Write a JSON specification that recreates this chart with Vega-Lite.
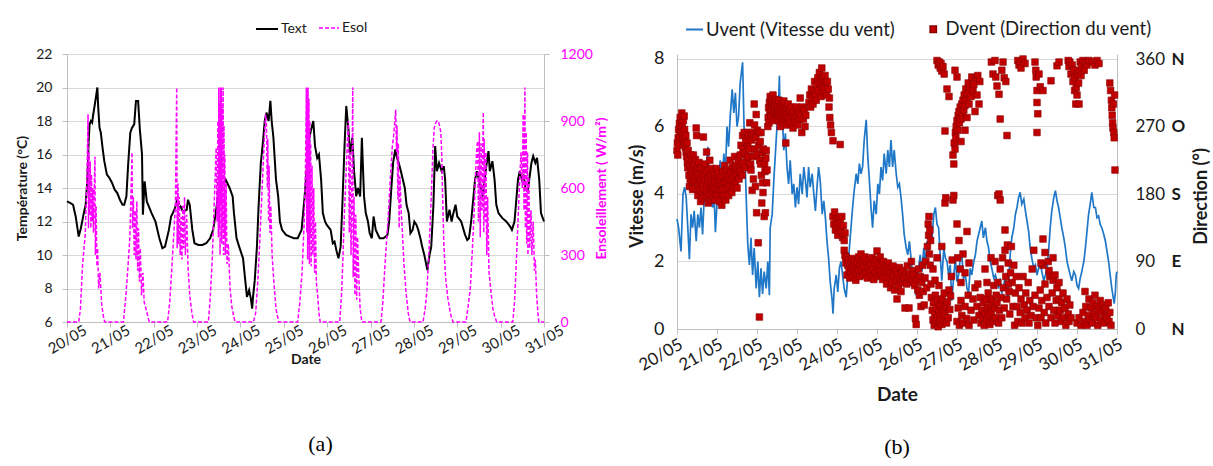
{
"$schema": "https://vega.github.io/schema/vega-lite/v6.json",
"autosize": {"type": "pad"},
"padding": {"left": 15, "top": 17, "right": 5, "bottom": 5},
"background": "white",
"config": {
  "font": "Lato",
  "view": {"stroke": null},
  "axis": {"labelFont": "Lato", "titleFont": "Lato", "labelColor": "#1a1a1a", "titleColor": "#1a1a1a", "gridColor": "#d9d9d9", "domainColor": "#bfbfbf", "tickColor": "#bfbfbf", "labelOverlap": false},
  "legend": {"labelFont": "Lato", "labelColor": "#1a1a1a", "labelLimit": 400}
},
"datasets": {
"temp": [
{"d":0,"T":13.2},{"d":0.08,"T":13.1},{"d":0.14,"T":13.0},{"d":0.2,"T":12.3},{"d":0.27,"T":11.1},{"d":0.32,"T":11.6},{"d":0.38,"T":12.4},{"d":0.43,"T":13.0},{"d":0.47,"T":14.5},{"d":0.5,"T":16.8},{"d":0.52,"T":17.8},{"d":0.55,"T":18.0},{"d":0.58,"T":17.9},{"d":0.6,"T":18.3},{"d":0.63,"T":18.8},{"d":0.66,"T":19.3},{"d":0.7,"T":20.0},{"d":0.72,"T":18.8},{"d":0.75,"T":17.6},{"d":0.78,"T":17.3},{"d":0.82,"T":16.4},{"d":0.86,"T":15.6},{"d":0.92,"T":14.8},{"d":0.98,"T":14.6},{"d":1.04,"T":14.3},{"d":1.1,"T":13.9},{"d":1.16,"T":13.7},{"d":1.22,"T":13.3},{"d":1.28,"T":13.0},{"d":1.32,"T":13.0},{"d":1.37,"T":13.5},{"d":1.41,"T":15.4},{"d":1.46,"T":17.3},{"d":1.5,"T":17.6},{"d":1.55,"T":17.8},{"d":1.59,"T":19.2},{"d":1.64,"T":19.2},{"d":1.68,"T":17.5},{"d":1.73,"T":16.0},{"d":1.75,"T":12.4},{"d":1.79,"T":14.4},{"d":1.84,"T":13.2},{"d":1.95,"T":12.5},{"d":2.04,"T":12.0},{"d":2.13,"T":11.0},{"d":2.2,"T":10.4},{"d":2.26,"T":10.5},{"d":2.35,"T":11.5},{"d":2.4,"T":12.3},{"d":2.44,"T":12.5},{"d":2.49,"T":12.8},{"d":2.53,"T":13.2},{"d":2.58,"T":12.8},{"d":2.62,"T":12.9},{"d":2.67,"T":12.6},{"d":2.76,"T":12.7},{"d":2.79,"T":13.3},{"d":2.83,"T":13.0},{"d":2.89,"T":11.5},{"d":2.94,"T":10.7},{"d":3.03,"T":10.6},{"d":3.12,"T":10.6},{"d":3.21,"T":10.7},{"d":3.3,"T":11.0},{"d":3.37,"T":11.5},{"d":3.43,"T":12.5},{"d":3.48,"T":13.5},{"d":3.52,"T":14.3},{"d":3.57,"T":14.1},{"d":3.66,"T":14.5},{"d":3.75,"T":14.0},{"d":3.82,"T":13.5},{"d":3.85,"T":12.5},{"d":3.91,"T":11.0},{"d":3.97,"T":10.5},{"d":4.06,"T":9.8},{"d":4.11,"T":8.5},{"d":4.15,"T":7.5},{"d":4.2,"T":7.9},{"d":4.24,"T":7.4},{"d":4.27,"T":6.8},{"d":4.29,"T":7.5},{"d":4.33,"T":8.5},{"d":4.38,"T":10.5},{"d":4.42,"T":13.0},{"d":4.47,"T":15.5},{"d":4.51,"T":16.5},{"d":4.56,"T":18.0},{"d":4.6,"T":18.5},{"d":4.65,"T":18.0},{"d":4.69,"T":19.2},{"d":4.72,"T":18.0},{"d":4.76,"T":17.0},{"d":4.82,"T":14.5},{"d":4.87,"T":13.5},{"d":4.91,"T":12.0},{"d":4.96,"T":11.5},{"d":5.05,"T":11.2},{"d":5.14,"T":11.1},{"d":5.23,"T":11.0},{"d":5.32,"T":11.0},{"d":5.41,"T":11.5},{"d":5.48,"T":13.5},{"d":5.54,"T":15.5},{"d":5.59,"T":17.0},{"d":5.63,"T":17.5},{"d":5.68,"T":18.0},{"d":5.72,"T":16.5},{"d":5.77,"T":15.8},{"d":5.81,"T":16.0},{"d":5.86,"T":14.5},{"d":5.9,"T":12.5},{"d":5.95,"T":12.0},{"d":5.99,"T":11.8},{"d":6.08,"T":11.5},{"d":6.13,"T":10.7},{"d":6.17,"T":10.8},{"d":6.22,"T":10.2},{"d":6.26,"T":9.8},{"d":6.31,"T":10.5},{"d":6.35,"T":13.0},{"d":6.4,"T":16.5},{"d":6.44,"T":18.9},{"d":6.49,"T":17.5},{"d":6.53,"T":16.0},{"d":6.58,"T":17.0},{"d":6.62,"T":15.0},{"d":6.67,"T":13.5},{"d":6.71,"T":14.0},{"d":6.76,"T":13.5},{"d":6.8,"T":17.0},{"d":6.85,"T":13.5},{"d":6.89,"T":12.5},{"d":6.94,"T":12.0},{"d":6.98,"T":11.3},{"d":7.03,"T":11.0},{"d":7.07,"T":12.3},{"d":7.12,"T":11.5},{"d":7.21,"T":11.0},{"d":7.3,"T":11.0},{"d":7.39,"T":11.2},{"d":7.43,"T":12.0},{"d":7.48,"T":14.0},{"d":7.52,"T":15.5},{"d":7.57,"T":16.3},{"d":7.61,"T":15.8},{"d":7.65,"T":15.5},{"d":7.7,"T":15.0},{"d":7.79,"T":14.0},{"d":7.83,"T":13.0},{"d":7.88,"T":12.5},{"d":7.92,"T":11.3},{"d":7.97,"T":11.5},{"d":8.01,"T":12.0},{"d":8.06,"T":11.8},{"d":8.1,"T":11.5},{"d":8.15,"T":11.0},{"d":8.19,"T":10.5},{"d":8.24,"T":10.0},{"d":8.28,"T":9.5},{"d":8.31,"T":9.1},{"d":8.36,"T":10.0},{"d":8.4,"T":10.5},{"d":8.45,"T":13.0},{"d":8.49,"T":16.5},{"d":8.53,"T":15.0},{"d":8.58,"T":15.5},{"d":8.64,"T":15.0},{"d":8.69,"T":15.3},{"d":8.72,"T":14.5},{"d":8.76,"T":12.0},{"d":8.82,"T":12.7},{"d":8.87,"T":12.0},{"d":8.91,"T":12.5},{"d":8.96,"T":13.0},{"d":9.0,"T":12.3},{"d":9.09,"T":12.0},{"d":9.18,"T":11.2},{"d":9.23,"T":10.9},{"d":9.27,"T":11.0},{"d":9.32,"T":12.0},{"d":9.41,"T":14.5},{"d":9.45,"T":15.0},{"d":9.5,"T":14.5},{"d":9.54,"T":14.0},{"d":9.59,"T":13.5},{"d":9.63,"T":14.5},{"d":9.68,"T":15.5},{"d":9.72,"T":16.2},{"d":9.75,"T":15.0},{"d":9.81,"T":15.6},{"d":9.86,"T":14.5},{"d":9.9,"T":13.0},{"d":9.95,"T":12.5},{"d":10.04,"T":12.2},{"d":10.13,"T":12.0},{"d":10.22,"T":11.7},{"d":10.26,"T":11.5},{"d":10.32,"T":12.0},{"d":10.4,"T":14.5},{"d":10.44,"T":15.0},{"d":10.49,"T":14.5},{"d":10.53,"T":14.8},{"d":10.57,"T":14.0},{"d":10.62,"T":13.8},{"d":10.66,"T":14.5},{"d":10.71,"T":15.5},{"d":10.75,"T":15.9},{"d":10.8,"T":15.5},{"d":10.84,"T":15.8},{"d":10.89,"T":14.5},{"d":10.93,"T":12.5},{"d":11.0,"T":12.0}
],
"esol": [
{"d":0,"E":0},{"d":0.27,"E":0},{"d":0.31,"E":60},{"d":0.36,"E":260},{"d":0.42,"E":390},{"d":0.46,"E":650},{"d":0.485,"E":930},{"d":0.495,"E":420},{"d":0.51,"E":760},{"d":0.52,"E":480},{"d":0.535,"E":720},{"d":0.55,"E":420},{"d":0.565,"E":660},{"d":0.58,"E":450},{"d":0.595,"E":600},{"d":0.61,"E":400},{"d":0.625,"E":560},{"d":0.645,"E":740},{"d":0.655,"E":300},{"d":0.67,"E":520},{"d":0.69,"E":250},{"d":0.705,"E":330},{"d":0.73,"E":150},{"d":0.76,"E":220},{"d":0.8,"E":80},{"d":0.835,"E":30},{"d":0.87,"E":0},
{"d":1.3,"E":0},{"d":1.35,"E":100},{"d":1.4,"E":230},{"d":1.45,"E":380},{"d":1.5,"E":760},{"d":1.51,"E":420},{"d":1.53,"E":560},{"d":1.55,"E":300},{"d":1.57,"E":500},{"d":1.59,"E":280},{"d":1.61,"E":540},{"d":1.63,"E":230},{"d":1.65,"E":420},{"d":1.67,"E":180},{"d":1.69,"E":330},{"d":1.72,"E":120},{"d":1.75,"E":220},{"d":1.78,"E":90},{"d":1.82,"E":60},{"d":1.87,"E":20},{"d":1.9,"E":0},
{"d":2.32,"E":0},{"d":2.37,"E":90},{"d":2.42,"E":250},{"d":2.47,"E":420},{"d":2.5,"E":520},{"d":2.53,"E":1050},{"d":2.54,"E":330},{"d":2.56,"E":620},{"d":2.575,"E":350},{"d":2.59,"E":560},{"d":2.61,"E":300},{"d":2.63,"E":470},{"d":2.65,"E":280},{"d":2.67,"E":520},{"d":2.69,"E":330},{"d":2.71,"E":560},{"d":2.73,"E":300},{"d":2.76,"E":480},{"d":2.79,"E":250},{"d":2.83,"E":120},{"d":2.88,"E":40},{"d":2.92,"E":0},
{"d":3.26,"E":0},{"d":3.3,"E":100},{"d":3.35,"E":280},{"d":3.4,"E":560},{"d":3.44,"E":780},{"d":3.46,"E":450},{"d":3.48,"E":900},{"d":3.49,"E":380},{"d":3.5,"E":1050},{"d":3.51,"E":420},{"d":3.52,"E":980},{"d":3.53,"E":300},{"d":3.54,"E":1050},{"d":3.55,"E":520},{"d":3.56,"E":1050},{"d":3.57,"E":350},{"d":3.58,"E":960},{"d":3.59,"E":420},{"d":3.6,"E":1050},{"d":3.61,"E":300},{"d":3.62,"E":880},{"d":3.63,"E":380},{"d":3.64,"E":750},{"d":3.65,"E":300},{"d":3.67,"E":620},{"d":3.69,"E":260},{"d":3.72,"E":350},{"d":3.76,"E":150},{"d":3.8,"E":70},{"d":3.85,"E":20},{"d":3.88,"E":0},
{"d":4.3,"E":0},{"d":4.35,"E":40},{"d":4.4,"E":180},{"d":4.45,"E":380},{"d":4.5,"E":600},{"d":4.55,"E":820},{"d":4.58,"E":930},{"d":4.6,"E":880},{"d":4.62,"E":600},{"d":4.63,"E":820},{"d":4.65,"E":450},{"d":4.66,"E":700},{"d":4.68,"E":400},{"d":4.7,"E":520},{"d":4.73,"E":300},{"d":4.77,"E":180},{"d":4.82,"E":60},{"d":4.88,"E":0},
{"d":5.32,"E":0},{"d":5.37,"E":90},{"d":5.42,"E":220},{"d":5.47,"E":450},{"d":5.5,"E":700},{"d":5.52,"E":1050},{"d":5.53,"E":400},{"d":5.54,"E":1050},{"d":5.55,"E":280},{"d":5.56,"E":1050},{"d":5.57,"E":350},{"d":5.58,"E":1000},{"d":5.59,"E":260},{"d":5.6,"E":900},{"d":5.61,"E":380},{"d":5.62,"E":800},{"d":5.63,"E":250},{"d":5.65,"E":700},{"d":5.67,"E":300},{"d":5.69,"E":600},{"d":5.71,"E":220},{"d":5.73,"E":450},{"d":5.75,"E":180},{"d":5.78,"E":120},{"d":5.81,"E":40},{"d":5.84,"E":0},
{"d":6.29,"E":0},{"d":6.33,"E":120},{"d":6.36,"E":270},{"d":6.4,"E":500},{"d":6.43,"E":640},{"d":6.46,"E":780},{"d":6.49,"E":900},{"d":6.51,"E":400},{"d":6.53,"E":760},{"d":6.55,"E":300},{"d":6.57,"E":600},{"d":6.59,"E":1050},{"d":6.6,"E":200},{"d":6.62,"E":560},{"d":6.64,"E":120},{"d":6.66,"E":480},{"d":6.68,"E":100},{"d":6.7,"E":380},{"d":6.73,"E":200},{"d":6.76,"E":60},{"d":6.8,"E":0},
{"d":7.24,"E":0},{"d":7.28,"E":80},{"d":7.33,"E":245},{"d":7.4,"E":450},{"d":7.45,"E":620},{"d":7.5,"E":780},{"d":7.53,"E":830},{"d":7.56,"E":900},{"d":7.58,"E":950},{"d":7.6,"E":760},{"d":7.61,"E":880},{"d":7.63,"E":550},{"d":7.64,"E":800},{"d":7.66,"E":420},{"d":7.68,"E":650},{"d":7.7,"E":520},{"d":7.73,"E":420},{"d":7.77,"E":260},{"d":7.82,"E":130},{"d":7.87,"E":40},{"d":7.91,"E":0},
{"d":8.21,"E":0},{"d":8.26,"E":60},{"d":8.3,"E":140},{"d":8.35,"E":330},{"d":8.4,"E":560},{"d":8.44,"E":780},{"d":8.47,"E":870},{"d":8.5,"E":890},{"d":8.53,"E":900},{"d":8.56,"E":900},{"d":8.59,"E":880},{"d":8.62,"E":850},{"d":8.64,"E":760},{"d":8.66,"E":580},{"d":8.69,"E":350},{"d":8.73,"E":200},{"d":8.78,"E":110},{"d":8.84,"E":40},{"d":8.9,"E":0},
{"d":9.2,"E":0},{"d":9.25,"E":70},{"d":9.3,"E":150},{"d":9.35,"E":330},{"d":9.39,"E":500},{"d":9.43,"E":700},{"d":9.45,"E":780},{"d":9.47,"E":810},{"d":9.49,"E":450},{"d":9.51,"E":850},{"d":9.53,"E":380},{"d":9.55,"E":800},{"d":9.57,"E":500},{"d":9.6,"E":940},{"d":9.61,"E":400},{"d":9.62,"E":820},{"d":9.64,"E":450},{"d":9.66,"E":760},{"d":9.68,"E":300},{"d":9.7,"E":560},{"d":9.73,"E":230},{"d":9.77,"E":150},{"d":9.82,"E":60},{"d":9.87,"E":20},{"d":9.91,"E":0},
{"d":10.28,"E":0},{"d":10.32,"E":90},{"d":10.36,"E":260},{"d":10.4,"E":450},{"d":10.44,"E":640},{"d":10.47,"E":760},{"d":10.5,"E":600},{"d":10.52,"E":930},{"d":10.54,"E":500},{"d":10.56,"E":1050},{"d":10.57,"E":420},{"d":10.59,"E":850},{"d":10.6,"E":350},{"d":10.62,"E":760},{"d":10.63,"E":300},{"d":10.65,"E":650},{"d":10.67,"E":330},{"d":10.7,"E":500},{"d":10.72,"E":300},{"d":10.75,"E":450},{"d":10.78,"E":230},{"d":10.8,"E":280},{"d":10.83,"E":120},{"d":10.86,"E":40},{"d":10.88,"E":0},{"d":11,"E":0}
],
"wind": [
{"d":0,"V":3.26},{"d":0.04,"V":3.0},{"d":0.1,"V":2.3},{"d":0.15,"V":4.0},{"d":0.19,"V":4.2},{"d":0.23,"V":3.9},{"d":0.27,"V":3.0},{"d":0.31,"V":2.07},{"d":0.35,"V":3.4},{"d":0.39,"V":3.0},{"d":0.43,"V":3.5},{"d":0.48,"V":2.6},{"d":0.52,"V":3.4},{"d":0.56,"V":3.0},{"d":0.6,"V":3.6},{"d":0.64,"V":2.8},{"d":0.68,"V":3.9},{"d":0.73,"V":4.6},{"d":0.77,"V":5.4},{"d":0.81,"V":4.4},{"d":0.85,"V":4.0},{"d":0.89,"V":3.6},{"d":0.93,"V":3.9},{"d":0.96,"V":2.87},{"d":1.0,"V":3.7},{"d":1.04,"V":4.4},{"d":1.08,"V":5.0},{"d":1.13,"V":4.3},{"d":1.17,"V":5.2},{"d":1.21,"V":4.6},{"d":1.25,"V":6.0},{"d":1.29,"V":5.4},{"d":1.33,"V":6.3},{"d":1.38,"V":7.1},{"d":1.42,"V":6.4},{"d":1.46,"V":7.0},{"d":1.5,"V":6.0},{"d":1.54,"V":6.3},{"d":1.58,"V":7.3},{"d":1.64,"V":7.9},{"d":1.68,"V":5.8},{"d":1.73,"V":3.9},{"d":1.77,"V":2.5},{"d":1.81,"V":1.9},{"d":1.85,"V":2.7},{"d":1.89,"V":1.6},{"d":1.93,"V":2.4},{"d":1.98,"V":1.2},{"d":2.02,"V":2.0},{"d":2.06,"V":0.94},{"d":2.1,"V":1.8},{"d":2.14,"V":1.04},{"d":2.18,"V":1.7},{"d":2.23,"V":1.2},{"d":2.27,"V":2.0},{"d":2.31,"V":1.0},{"d":2.33,"V":3.0},{"d":2.38,"V":3.4},{"d":2.42,"V":4.4},{"d":2.46,"V":5.2},{"d":2.5,"V":6.0},{"d":2.54,"V":6.8},{"d":2.56,"V":7.5},{"d":2.58,"V":6.0},{"d":2.63,"V":6.4},{"d":2.67,"V":5.3},{"d":2.71,"V":5.8},{"d":2.75,"V":4.8},{"d":2.79,"V":4.3},{"d":2.83,"V":5.0},{"d":2.88,"V":4.0},{"d":2.92,"V":4.3},{"d":2.96,"V":3.6},{"d":3.0,"V":4.2},{"d":3.04,"V":3.7},{"d":3.08,"V":4.6},{"d":3.13,"V":4.0},{"d":3.17,"V":4.8},{"d":3.21,"V":4.4},{"d":3.25,"V":3.9},{"d":3.29,"V":4.8},{"d":3.33,"V":4.2},{"d":3.38,"V":4.6},{"d":3.42,"V":4.0},{"d":3.46,"V":3.5},{"d":3.5,"V":4.2},{"d":3.54,"V":4.8},{"d":3.58,"V":4.4},{"d":3.63,"V":3.4},{"d":3.67,"V":3.8},{"d":3.71,"V":3.3},{"d":3.75,"V":2.6},{"d":3.79,"V":2.1},{"d":3.83,"V":1.4},{"d":3.88,"V":0.84},{"d":3.9,"V":0.45},{"d":3.93,"V":1.2},{"d":3.98,"V":1.6},{"d":4.02,"V":1.1},{"d":4.06,"V":1.8},{"d":4.1,"V":2.0},{"d":4.14,"V":1.6},{"d":4.18,"V":1.2},{"d":4.23,"V":0.94},{"d":4.27,"V":1.6},{"d":4.31,"V":2.4},{"d":4.35,"V":3.0},{"d":4.39,"V":3.6},{"d":4.43,"V":4.1},{"d":4.48,"V":4.6},{"d":4.52,"V":4.3},{"d":4.56,"V":4.9},{"d":4.6,"V":4.6},{"d":4.64,"V":4.8},{"d":4.68,"V":5.6},{"d":4.73,"V":6.2},{"d":4.77,"V":5.1},{"d":4.81,"V":4.4},{"d":4.85,"V":3.6},{"d":4.89,"V":3.0},{"d":4.93,"V":3.8},{"d":4.98,"V":3.4},{"d":5.02,"V":4.3},{"d":5.06,"V":4.0},{"d":5.1,"V":4.8},{"d":5.14,"V":4.4},{"d":5.18,"V":5.2},{"d":5.23,"V":4.6},{"d":5.27,"V":5.3},{"d":5.31,"V":4.8},{"d":5.35,"V":5.6},{"d":5.39,"V":4.8},{"d":5.43,"V":5.3},{"d":5.48,"V":4.6},{"d":5.52,"V":4.2},{"d":5.56,"V":4.3},{"d":5.6,"V":3.9},{"d":5.64,"V":3.4},{"d":5.68,"V":2.8},{"d":5.73,"V":2.4},{"d":5.77,"V":2.2},{"d":5.81,"V":2.6},{"d":5.85,"V":2.1},{"d":5.89,"V":1.6},{"d":5.93,"V":1.8},{"d":5.97,"V":1.0},{"d":6.02,"V":1.6},{"d":6.08,"V":2.2},{"d":6.12,"V":1.7},{"d":6.17,"V":2.4},{"d":6.21,"V":1.9},{"d":6.25,"V":2.6},{"d":6.29,"V":2.3},{"d":6.33,"V":3.0},{"d":6.37,"V":2.6},{"d":6.42,"V":3.4},{"d":6.46,"V":3.6},{"d":6.5,"V":3.1},{"d":6.54,"V":3.0},{"d":6.58,"V":2.2},{"d":6.62,"V":1.43},{"d":6.67,"V":2.4},{"d":6.71,"V":2.1},{"d":6.75,"V":2.0},{"d":6.79,"V":1.6},{"d":6.83,"V":1.9},{"d":6.87,"V":0.84},{"d":6.92,"V":1.6},{"d":6.96,"V":2.1},{"d":7.0,"V":1.4},{"d":7.04,"V":1.6},{"d":7.08,"V":2.1},{"d":7.12,"V":2.2},{"d":7.16,"V":1.5},{"d":7.21,"V":1.6},{"d":7.25,"V":1.2},{"d":7.29,"V":1.05},{"d":7.33,"V":1.8},{"d":7.37,"V":1.6},{"d":7.42,"V":2.0},{"d":7.46,"V":2.2},{"d":7.5,"V":2.6},{"d":7.54,"V":2.8},{"d":7.58,"V":3.0},{"d":7.62,"V":3.2},{"d":7.66,"V":2.7},{"d":7.71,"V":3.0},{"d":7.75,"V":2.6},{"d":7.79,"V":2.4},{"d":7.83,"V":2.0},{"d":7.87,"V":1.8},{"d":7.92,"V":1.5},{"d":7.96,"V":1.6},{"d":8.0,"V":1.4},{"d":8.04,"V":1.2},{"d":8.08,"V":1.5},{"d":8.12,"V":1.05},{"d":8.17,"V":1.3},{"d":8.21,"V":1.6},{"d":8.25,"V":1.1},{"d":8.27,"V":0.84},{"d":8.3,"V":1.6},{"d":8.33,"V":2.2},{"d":8.37,"V":2.7},{"d":8.42,"V":3.0},{"d":8.46,"V":3.4},{"d":8.5,"V":3.6},{"d":8.54,"V":3.9},{"d":8.58,"V":4.05},{"d":8.62,"V":3.7},{"d":8.67,"V":3.85},{"d":8.71,"V":3.5},{"d":8.75,"V":3.2},{"d":8.79,"V":2.9},{"d":8.83,"V":2.4},{"d":8.87,"V":2.1},{"d":8.92,"V":1.8},{"d":8.96,"V":1.9},{"d":9.0,"V":1.6},{"d":9.04,"V":1.8},{"d":9.08,"V":2.0},{"d":9.12,"V":1.7},{"d":9.17,"V":1.43},{"d":9.21,"V":1.6},{"d":9.25,"V":1.8},{"d":9.29,"V":2.3},{"d":9.33,"V":3.0},{"d":9.37,"V":3.5},{"d":9.42,"V":3.9},{"d":9.46,"V":4.1},{"d":9.5,"V":3.8},{"d":9.54,"V":3.6},{"d":9.58,"V":3.3},{"d":9.62,"V":3.0},{"d":9.67,"V":2.7},{"d":9.71,"V":2.4},{"d":9.75,"V":2.0},{"d":9.79,"V":1.8},{"d":9.83,"V":1.6},{"d":9.87,"V":1.43},{"d":9.92,"V":1.7},{"d":9.96,"V":1.6},{"d":10.0,"V":1.3},{"d":10.04,"V":1.2},{"d":10.08,"V":1.5},{"d":10.12,"V":1.7},{"d":10.17,"V":2.0},{"d":10.21,"V":2.4},{"d":10.25,"V":2.9},{"d":10.29,"V":3.4},{"d":10.33,"V":3.7},{"d":10.37,"V":4.05},{"d":10.42,"V":3.6},{"d":10.46,"V":3.6},{"d":10.5,"V":3.3},{"d":10.54,"V":3.35},{"d":10.58,"V":3.1},{"d":10.62,"V":3.0},{"d":10.67,"V":2.8},{"d":10.71,"V":2.6},{"d":10.75,"V":2.3},{"d":10.79,"V":2.0},{"d":10.83,"V":1.6},{"d":10.87,"V":1.2},{"d":10.91,"V":0.9},{"d":10.93,"V":0.75},{"d":10.96,"V":1.1},{"d":10.98,"V":1.6},{"d":11.0,"V":1.7}
],
"dir": [
{"d":0,"D":238},{"d":0.01,"D":248},{"d":0.02,"D":232},{"d":0.03,"D":255},{"d":0.04,"D":266},{"d":0.05,"D":245},{"d":0.06,"D":274},{"d":0.07,"D":258},{"d":0.08,"D":282},{"d":0.09,"D":268},{"d":0.1,"D":262},{"d":0.11,"D":275},{"d":0.12,"D":288},{"d":0.13,"D":270},{"d":0.14,"D":255},{"d":0.15,"D":262},{"d":0.16,"D":278},{"d":0.17,"D":248},{"d":0.18,"D":284},{"d":0.19,"D":266},{"d":0.2,"D":252},{"d":0.21,"D":242},{"d":0.22,"D":258},{"d":0.23,"D":236},{"d":0.24,"D":230},{"d":0.25,"D":248},
{"d":0.26,"D":222},{"d":0.27,"D":215},{"d":0.28,"D":238},{"d":0.29,"D":228},{"d":0.3,"D":205},{"d":0.31,"D":190},{"d":0.32,"D":218},{"d":0.33,"D":200},{"d":0.34,"D":232},{"d":0.35,"D":212},{"d":0.36,"D":196},{"d":0.37,"D":225},{"d":0.38,"D":208},{"d":0.39,"D":186},{"d":0.4,"D":215},{"d":0.41,"D":232},{"d":0.42,"D":198},{"d":0.43,"D":220},{"d":0.44,"D":205},{"d":0.45,"D":188},{"d":0.46,"D":226},{"d":0.47,"D":210},{"d":0.48,"D":268},{"d":0.49,"D":258},{"d":0.5,"D":196},{"d":0.51,"D":215},{"d":0.52,"D":178},{"d":0.53,"D":206},{"d":0.54,"D":192},{"d":0.55,"D":222},{"d":0.56,"D":185},{"d":0.57,"D":200},{"d":0.58,"D":214},{"d":0.59,"D":170},{"d":0.6,"D":196},{"d":0.61,"D":208},{"d":0.62,"D":180},{"d":0.63,"D":215},{"d":0.64,"D":192},{"d":0.65,"D":175},{"d":0.66,"D":256},{"d":0.67,"D":205},{"d":0.68,"D":186},{"d":0.7,"D":220},{"d":0.71,"D":198},{"d":0.72,"D":178},{"d":0.73,"D":210},{"d":0.74,"D":236},{"d":0.75,"D":190},{"d":0.76,"D":182},{"d":0.77,"D":200},{"d":0.78,"D":168},{"d":0.79,"D":212},{"d":0.8,"D":195},{"d":0.81,"D":178},{"d":0.82,"D":225},{"d":0.83,"D":188},{"d":0.84,"D":205},{"d":0.85,"D":172},{"d":0.86,"D":198},{"d":0.87,"D":214},{"d":0.88,"D":185},{"d":0.89,"D":192},{"d":0.9,"D":176},{"d":0.92,"D":208},{"d":0.93,"D":188},{"d":0.94,"D":200},{"d":0.95,"D":172},{"d":0.96,"D":196},{"d":0.97,"D":180},{"d":0.98,"D":214},{"d":1.0,"D":186},{"d":1.01,"D":205},{"d":1.02,"D":178},{"d":1.03,"D":196},{"d":1.04,"D":190},{"d":1.05,"D":208},{"d":1.06,"D":170},{"d":1.07,"D":186},{"d":1.08,"D":198},{"d":1.1,"D":180},{"d":1.11,"D":202},{"d":1.12,"D":165},{"d":1.13,"D":192},{"d":1.14,"D":185},{"d":1.15,"D":210},{"d":1.16,"D":178},{"d":1.18,"D":196},{"d":1.19,"D":218},{"d":1.2,"D":186},{"d":1.21,"D":204},{"d":1.22,"D":172},{"d":1.24,"D":195},{"d":1.25,"D":212},{"d":1.26,"D":188},{"d":1.28,"D":200},{"d":1.29,"D":178},
{"d":1.3,"D":206},{"d":1.32,"D":192},{"d":1.33,"D":225},{"d":1.34,"D":210},{"d":1.36,"D":198},{"d":1.37,"D":182},{"d":1.38,"D":215},{"d":1.4,"D":202},{"d":1.41,"D":190},{"d":1.43,"D":216},{"d":1.44,"D":230},{"d":1.45,"D":208},{"d":1.46,"D":195},{"d":1.48,"D":218},{"d":1.49,"D":205},{"d":1.5,"D":188},{"d":1.52,"D":212},{"d":1.53,"D":225},{"d":1.55,"D":200},{"d":1.56,"D":215},{"d":1.58,"D":232},{"d":1.59,"D":210},{"d":1.6,"D":245},{"d":1.62,"D":220},{"d":1.63,"D":205},{"d":1.64,"D":258},{"d":1.65,"D":240},{"d":1.67,"D":222},{"d":1.68,"D":262},{"d":1.7,"D":215},{"d":1.71,"D":235},{"d":1.72,"D":255},{"d":1.73,"D":250},{"d":1.75,"D":228},{"d":1.76,"D":262},{"d":1.77,"D":244},{"d":1.78,"D":230},{"d":1.8,"D":258},{"d":1.81,"D":240},{"d":1.82,"D":275},{"d":1.84,"D":220},{"d":1.85,"D":212},{"d":1.86,"D":252},{"d":1.87,"D":262},{"d":1.88,"D":185},{"d":1.9,"D":230},{"d":1.91,"D":200},{"d":1.92,"D":258},{"d":1.93,"D":300},{"d":1.94,"D":272},{"d":1.95,"D":240},{"d":1.96,"D":190},{"d":1.97,"D":255},{"d":1.98,"D":286},{"d":1.99,"D":155},{"d":2.0,"D":232},{"d":2.01,"D":265},{"d":2.03,"D":115},{"d":2.04,"D":245},{"d":2.05,"D":262},{"d":2.06,"D":16},{"d":2.07,"D":225},{"d":2.08,"D":250},{"d":2.09,"D":220},{"d":2.1,"D":262},{"d":2.11,"D":205},{"d":2.12,"D":168},{"d":2.13,"D":235},{"d":2.14,"D":195},{"d":2.15,"D":182},{"d":2.16,"D":240},{"d":2.18,"D":150},{"d":2.19,"D":220},{"d":2.2,"D":210},{"d":2.21,"D":155},{"d":2.22,"D":228},{"d":2.23,"D":238},{"d":2.24,"D":195},{"d":2.25,"D":212},{"d":2.27,"D":270},
{"d":2.28,"D":282},{"d":2.29,"D":295},{"d":2.3,"D":275},{"d":2.31,"D":302},{"d":2.32,"D":288},{"d":2.33,"D":310},{"d":2.34,"D":296},{"d":2.35,"D":284},{"d":2.36,"D":305},{"d":2.37,"D":292},{"d":2.38,"D":300},{"d":2.39,"D":278},{"d":2.4,"D":312},{"d":2.41,"D":295},{"d":2.42,"D":286},{"d":2.43,"D":302},{"d":2.44,"D":290},{"d":2.45,"D":298},{"d":2.46,"D":282},{"d":2.47,"D":306},{"d":2.48,"D":292},{"d":2.49,"D":285},{"d":2.5,"D":300},{"d":2.51,"D":288},{"d":2.52,"D":296},{"d":2.53,"D":278},{"d":2.54,"D":290},{"d":2.55,"D":305},{"d":2.56,"D":284},{"d":2.57,"D":295},{"d":2.58,"D":270},{"d":2.6,"D":288},{"d":2.61,"D":300},{"d":2.62,"D":282},{"d":2.63,"D":292},{"d":2.64,"D":275},{"d":2.65,"D":298},{"d":2.66,"D":286},{"d":2.67,"D":304},{"d":2.68,"D":280},{"d":2.7,"D":292},{"d":2.71,"D":298},{"d":2.72,"D":248},{"d":2.73,"D":285},{"d":2.74,"D":272},{"d":2.75,"D":295},{"d":2.76,"D":282},{"d":2.78,"D":300},{"d":2.79,"D":288},{"d":2.8,"D":276},{"d":2.82,"D":292},{"d":2.83,"D":282},{"d":2.85,"D":296},{"d":2.86,"D":275},{"d":2.88,"D":288},{"d":2.9,"D":268},{"d":2.92,"D":290},{"d":2.94,"D":280},{"d":2.96,"D":276},{"d":2.98,"D":296},{"d":3.0,"D":285},{"d":3.02,"D":272},{"d":3.04,"D":290},{"d":3.06,"D":280},{"d":3.08,"D":308},{"d":3.1,"D":286},{"d":3.12,"D":262},{"d":3.14,"D":296},{"d":3.16,"D":280},{"d":3.18,"D":292},{"d":3.2,"D":270},{"d":3.22,"D":285},
{"d":3.3,"D":302},{"d":3.32,"D":312},{"d":3.34,"D":296},{"d":3.36,"D":320},{"d":3.38,"D":308},{"d":3.4,"D":300},{"d":3.42,"D":318},{"d":3.44,"D":330},{"d":3.46,"D":312},{"d":3.48,"D":305},{"d":3.5,"D":325},{"d":3.52,"D":335},{"d":3.54,"D":318},{"d":3.56,"D":342},{"d":3.58,"D":328},{"d":3.6,"D":310},{"d":3.62,"D":348},{"d":3.63,"D":332},{"d":3.65,"D":322},{"d":3.66,"D":336},{"d":3.68,"D":315},{"d":3.7,"D":338},{"d":3.72,"D":328},{"d":3.74,"D":312},{"d":3.76,"D":330},{"d":3.78,"D":320},{"d":3.8,"D":296},{"d":3.81,"D":308},{"d":3.82,"D":282},{"d":3.84,"D":272},{"d":3.86,"D":262},{"d":3.9,"D":251},{"d":4.08,"D":246},
{"d":3.9,"D":150},{"d":3.92,"D":140},{"d":3.94,"D":156},{"d":3.96,"D":132},{"d":3.98,"D":145},{"d":4.0,"D":138},{"d":4.02,"D":125},{"d":4.04,"D":148},{"d":4.06,"D":135},{"d":4.08,"D":142},{"d":4.1,"D":130},{"d":4.12,"D":150},{"d":4.14,"D":122},{"d":4.16,"D":138},{"d":4.18,"D":118},{"d":4.2,"D":128},
{"d":4.18,"D":105},{"d":4.2,"D":98},{"d":4.22,"D":88},{"d":4.23,"D":96},{"d":4.25,"D":72},{"d":4.27,"D":85},{"d":4.28,"D":92},{"d":4.3,"D":80},{"d":4.32,"D":68},{"d":4.33,"D":88},{"d":4.35,"D":76},{"d":4.37,"D":94},{"d":4.38,"D":82},{"d":4.4,"D":70},{"d":4.42,"D":86},{"d":4.44,"D":78},{"d":4.45,"D":92},{"d":4.47,"D":65},{"d":4.49,"D":82},{"d":4.5,"D":74},{"d":4.52,"D":88},{"d":4.54,"D":96},{"d":4.55,"D":78},{"d":4.57,"D":70},{"d":4.59,"D":85},{"d":4.6,"D":100},{"d":4.62,"D":78},{"d":4.64,"D":90},{"d":4.66,"D":72},{"d":4.68,"D":84},{"d":4.7,"D":96},{"d":4.72,"D":75},{"d":4.74,"D":88},{"d":4.76,"D":68},{"d":4.78,"D":82},{"d":4.8,"D":92},{"d":4.82,"D":76},{"d":4.84,"D":86},{"d":4.86,"D":70},{"d":4.88,"D":95},{"d":4.9,"D":80},{"d":4.92,"D":66},{"d":4.94,"D":88},{"d":4.96,"D":75},{"d":4.98,"D":92},{"d":5.0,"D":104},{"d":5.02,"D":70},{"d":5.04,"D":86},{"d":5.06,"D":78},{"d":5.08,"D":96},{"d":5.1,"D":72},{"d":5.12,"D":84},{"d":5.14,"D":66},{"d":5.16,"D":90},{"d":5.18,"D":78},{"d":5.2,"D":70},{"d":5.22,"D":85},{"d":5.24,"D":60},{"d":5.26,"D":76},{"d":5.28,"D":88},{"d":5.3,"D":68},{"d":5.32,"D":80},{"d":5.34,"D":55},{"d":5.36,"D":74},{"d":5.38,"D":62},{"d":5.4,"D":84},{"d":5.42,"D":70},{"d":5.44,"D":52},{"d":5.46,"D":78},{"d":5.48,"D":65},{"d":5.5,"D":40},{"d":5.52,"D":72},{"d":5.54,"D":58},{"d":5.56,"D":82},{"d":5.58,"D":66},{"d":5.6,"D":50},{"d":5.62,"D":75},{"d":5.64,"D":62},{"d":5.66,"D":78},{"d":5.68,"D":68},{"d":5.7,"D":28},{"d":5.72,"D":72},{"d":5.74,"D":60},{"d":5.76,"D":84},{"d":5.78,"D":70},{"d":5.8,"D":28},{"d":5.82,"D":74},{"d":5.84,"D":62},{"d":5.86,"D":90},{"d":5.88,"D":66},{"d":5.9,"D":78},{"d":5.92,"D":72},{"d":5.94,"D":58},{"d":5.96,"D":14},{"d":5.98,"D":6},{"d":6.0,"D":66},{"d":6.02,"D":52},{"d":6.04,"D":80},{"d":6.06,"D":45},{"d":6.08,"D":70},{"d":6.1,"D":30},{"d":6.12,"D":62},{"d":6.14,"D":85},{"d":6.16,"D":50},{"d":6.18,"D":32},{"d":6.2,"D":68},{"d":6.22,"D":90},{"d":6.24,"D":55},{"d":6.26,"D":110},{"d":6.28,"D":140},{"d":6.29,"D":125},{"d":6.3,"D":150},{"d":6.31,"D":100},{"d":6.32,"D":132},{"d":6.33,"D":85},{"d":6.34,"D":118},{"d":6.35,"D":60},
{"d":6.36,"D":42},{"d":6.38,"D":25},{"d":6.4,"D":12},{"d":6.41,"D":35},{"d":6.43,"D":5},{"d":6.44,"D":20},{"d":6.46,"D":45},{"d":6.47,"D":8},{"d":6.49,"D":28},{"d":6.5,"D":15},{"d":6.52,"D":38},{"d":6.53,"D":3},{"d":6.55,"D":22},{"d":6.57,"D":10},{"d":6.58,"D":32},{"d":6.6,"D":18},{"d":6.62,"D":6},{"d":6.63,"D":40},{"d":6.65,"D":25},{"d":6.67,"D":12},{"d":6.68,"D":48},{"d":6.7,"D":20},{"d":6.72,"D":30},{"d":6.74,"D":8},{"d":6.76,"D":36},{"d":6.78,"D":15},{"d":6.8,"D":52},{"d":6.82,"D":26},{"d":6.84,"D":44},{"d":6.86,"D":70},{"d":6.88,"D":92},{"d":6.4,"D":80},{"d":6.45,"D":65},{"d":6.5,"D":95},{"d":6.55,"D":58},{"d":6.62,"D":110},{"d":6.7,"D":168},{"d":6.72,"D":175},{"d":6.9,"D":172},{"d":6.92,"D":178},
{"d":6.5,"D":358},{"d":6.53,"D":352},{"d":6.56,"D":356},{"d":6.58,"D":348},{"d":6.6,"D":354},{"d":6.62,"D":344},{"d":6.65,"D":350},{"d":6.68,"D":340},{"d":6.7,"D":264},{"d":6.75,"D":320},{"d":6.8,"D":310},
{"d":6.9,"D":232},{"d":6.92,"D":220},{"d":6.93,"D":248},{"d":6.95,"D":240},{"d":6.96,"D":262},{"d":6.97,"D":255},{"d":6.98,"D":270},{"d":7.0,"D":278},{"d":7.02,"D":265},{"d":7.03,"D":285},{"d":7.05,"D":290},{"d":7.06,"D":275},{"d":7.08,"D":296},{"d":7.1,"D":280},{"d":7.12,"D":300},{"d":7.13,"D":288},{"d":7.15,"D":305},{"d":7.17,"D":292},{"d":7.18,"D":312},{"d":7.2,"D":298},{"d":7.22,"D":320},{"d":7.23,"D":305},{"d":7.25,"D":282},{"d":7.27,"D":315},{"d":7.28,"D":328},{"d":7.3,"D":300},{"d":7.32,"D":322},{"d":7.35,"D":310},{"d":7.37,"D":336},{"d":7.4,"D":318},{"d":7.42,"D":326},{"d":7.45,"D":290},{"d":7.47,"D":335},{"d":7.5,"D":312},{"d":7.52,"D":338},{"d":7.55,"D":300},{"d":7.57,"D":330},{"d":7.2,"D":265},{"d":7.1,"D":250},{"d":6.95,"D":345},{"d":7.0,"D":336},
{"d":7.0,"D":140},{"d":7.02,"D":95},{"d":7.05,"D":118},{"d":7.08,"D":80},{"d":7.1,"D":62},{"d":7.15,"D":100},{"d":7.2,"D":75},{"d":7.25,"D":130},{"d":7.3,"D":88},
{"d":7.0,"D":10},{"d":7.03,"D":28},{"d":7.06,"D":5},{"d":7.1,"D":38},{"d":7.12,"D":18},{"d":7.15,"D":8},{"d":7.2,"D":30},{"d":7.24,"D":14},{"d":7.28,"D":45},{"d":7.3,"D":5},{"d":7.35,"D":25},{"d":7.4,"D":40},{"d":7.42,"D":12},{"d":7.45,"D":55},{"d":7.5,"D":30},{"d":7.52,"D":60},{"d":7.55,"D":18},{"d":7.58,"D":42},
{"d":7.6,"D":8},{"d":7.62,"D":25},{"d":7.64,"D":15},{"d":7.66,"D":35},{"d":7.68,"D":5},{"d":7.7,"D":20},{"d":7.72,"D":40},{"d":7.74,"D":12},{"d":7.76,"D":28},{"d":7.78,"D":48},{"d":7.8,"D":18},{"d":7.82,"D":6},{"d":7.84,"D":32},{"d":7.86,"D":22},{"d":7.88,"D":40},{"d":7.9,"D":10},{"d":7.92,"D":58},{"d":7.94,"D":28},{"d":7.96,"D":15},{"d":7.98,"D":45},{"d":8.0,"D":35},{"d":8.02,"D":62},{"d":8.04,"D":8},{"d":8.06,"D":25},{"d":8.08,"D":80},{"d":8.1,"D":42},{"d":8.12,"D":15},{"d":8.14,"D":95},{"d":8.16,"D":55},{"d":8.18,"D":28},{"d":8.2,"D":105},{"d":8.22,"D":70},{"d":8.24,"D":40},{"d":8.26,"D":112},{"d":8.28,"D":88},{"d":8.3,"D":50},{"d":8.32,"D":20},{"d":8.34,"D":75},{"d":8.36,"D":110},{"d":8.38,"D":62},{"d":8.4,"D":30},{"d":8.42,"D":85},{"d":8.44,"D":5},{"d":8.46,"D":48},{"d":8.48,"D":70},
{"d":8.02,"D":178},{"d":8.05,"D":180},{"d":8.08,"D":172},{"d":8.2,"D":132},{"d":7.7,"D":80},{"d":7.75,"D":62},{"d":7.85,"D":95},{"d":7.95,"D":90},{"d":8.28,"D":60},
{"d":7.86,"D":356},{"d":7.9,"D":340},{"d":7.95,"D":358},{"d":7.97,"D":336},{"d":8.0,"D":324},{"d":8.05,"D":313},{"d":8.08,"D":280},{"d":8.12,"D":345},{"d":8.15,"D":356},{"d":8.18,"D":335},{"d":8.22,"D":330},{"d":8.25,"D":258},
{"d":8.52,"D":358},{"d":8.55,"D":352},{"d":8.58,"D":356},{"d":8.6,"D":348},{"d":8.65,"D":360},{"d":8.7,"D":354},
{"d":8.5,"D":30},{"d":8.52,"D":10},{"d":8.55,"D":55},{"d":8.58,"D":22},{"d":8.6,"D":40},{"d":8.62,"D":8},{"d":8.65,"D":70},{"d":8.68,"D":32},{"d":8.7,"D":15},{"d":8.72,"D":48},{"d":8.75,"D":25},{"d":8.78,"D":62},{"d":8.8,"D":8},{"d":8.82,"D":38},{"d":8.85,"D":18},{"d":8.88,"D":80},{"d":8.9,"D":30},{"d":8.92,"D":105},{"d":8.95,"D":45},{"d":8.98,"D":15},
{"d":8.95,"D":356},{"d":8.97,"D":345},{"d":8.98,"D":336},{"d":9.0,"D":318},{"d":9.0,"D":302},{"d":9.02,"D":287},{"d":9.0,"D":262},{"d":9.05,"D":340},{"d":9.08,"D":323},
{"d":9.02,"D":5},{"d":9.05,"D":28},{"d":9.08,"D":52},{"d":9.1,"D":15},{"d":9.12,"D":38},{"d":9.15,"D":85},{"d":9.18,"D":22},{"d":9.2,"D":60},{"d":9.22,"D":8},{"d":9.25,"D":42},{"d":9.28,"D":90},{"d":9.3,"D":30},{"d":9.32,"D":70},{"d":9.35,"D":15},{"d":9.38,"D":48},{"d":9.4,"D":65},{"d":9.42,"D":25},{"d":9.45,"D":8},{"d":9.48,"D":38},{"d":9.5,"D":55},{"d":9.52,"D":18},{"d":9.55,"D":40},{"d":9.58,"D":25},{"d":9.6,"D":10},{"d":9.62,"D":35},{"d":9.65,"D":48},{"d":9.68,"D":15},{"d":9.7,"D":28},{"d":9.72,"D":5},{"d":9.75,"D":40},{"d":9.78,"D":20},{"d":9.8,"D":10},{"d":9.82,"D":32},{"d":9.85,"D":15},
{"d":9.1,"D":88},{"d":9.15,"D":120},{"d":9.2,"D":102},{"d":9.3,"D":78},{"d":9.4,"D":95},{"d":9.45,"D":72},{"d":9.55,"D":62},
{"d":9.15,"D":318},{"d":9.35,"D":331},{"d":9.5,"D":351},{"d":9.55,"D":356},
{"d":9.78,"D":358},{"d":9.8,"D":350},{"d":9.82,"D":356},{"d":9.85,"D":340},{"d":9.88,"D":352},{"d":9.9,"D":330},{"d":9.92,"D":345},{"d":9.94,"D":318},{"d":9.95,"D":335},{"d":9.97,"D":300},{"d":9.98,"D":322},{"d":10.0,"D":312},{"d":10.02,"D":340},{"d":10.04,"D":328},{"d":10.05,"D":300},{"d":10.06,"D":345},{"d":10.08,"D":356},{"d":10.1,"D":338},{"d":10.12,"D":350},{"d":10.15,"D":358},{"d":10.18,"D":345},{"d":10.2,"D":355},{"d":10.25,"D":352},{"d":10.3,"D":358},{"d":10.38,"D":356},{"d":10.45,"D":352},{"d":10.5,"D":358},{"d":10.55,"D":354},
{"d":10.0,"D":8},{"d":10.05,"D":15},{"d":10.1,"D":5},{"d":10.15,"D":22},{"d":10.2,"D":10},{"d":10.22,"D":30},{"d":10.25,"D":5},{"d":10.28,"D":18},{"d":10.3,"D":40},{"d":10.32,"D":12},{"d":10.35,"D":28},{"d":10.38,"D":8},{"d":10.4,"D":35},{"d":10.42,"D":20},{"d":10.45,"D":45},{"d":10.48,"D":15},{"d":10.5,"D":30},{"d":10.52,"D":5},{"d":10.55,"D":25},{"d":10.58,"D":38},{"d":10.6,"D":12},{"d":10.62,"D":22},{"d":10.65,"D":32},{"d":10.68,"D":8},{"d":10.7,"D":18},{"d":10.72,"D":28},{"d":10.75,"D":15},{"d":10.78,"D":35},{"d":10.8,"D":10},{"d":10.82,"D":22},{"d":10.85,"D":5},{"d":10.2,"D":50},
{"d":10.82,"D":328},{"d":10.84,"D":318},{"d":10.86,"D":305},{"d":10.87,"D":295},{"d":10.88,"D":285},{"d":10.89,"D":275},{"d":10.9,"D":268},{"d":10.91,"D":300},{"d":10.92,"D":262},{"d":10.93,"D":255},{"d":10.95,"D":212},{"d":10.94,"D":312}
]
},
"hconcat": [
{
  "width": 477, "height": 268,
  "title": {"text": "(a)", "orient": "bottom", "font": "Liberation Serif", "fontSize": 22, "fontWeight": "normal", "color": "#000000", "offset": 68, "dx": 15},
  "encoding": {
    "x": {"field": "d", "type": "quantitative", "scale": {"domain": [0, 11], "nice": false},
      "axis": {"values": [0,1,2,3,4,5,6,7,8,9,10,11], "labelOverlap": false, "labelExpr": "format(20 + datum.value, 'd') + '/05'", "labelAngle": -30, "labelAlign": "center", "labelBaseline": "middle", "labelFontSize": 15, "labelPadding": 12, "tickSize": 5, "grid": false, "title": "Date", "titleFontSize": 14, "titleFontWeight": "bold", "titleY": 37, "titleBaseline": "middle"}}
  },
  "layer": [
    {
      "data": {"name": "temp"},
      "mark": {"type": "line", "strokeWidth": 2},
      "encoding": {
        "y": {"field": "T", "type": "quantitative", "scale": {"domain": [6, 22], "nice": false},
          "axis": {"values": [6,8,10,12,14,16,18,20,22], "labelFontSize": 14, "labelPadding": 10, "tickSize": 5, "grid": true, "title": "Température (°C)", "titleFontSize": 14, "titleFontWeight": "bold", "titleAngle": 270, "titleX": -45, "titleY": 134, "titleAlign": "center", "titleBaseline": "middle"}},
        "stroke": {"datum": "Text", "scale": {"domain": ["Text"], "range": ["#000000"]},
          "legend": {"orient": "none", "legendX": 188, "legendY": -37, "title": null, "symbolType": "stroke", "symbolSize": 484, "symbolStrokeWidth": 2, "labelFontSize": 14, "padding": 0, "labelOffset": 2}}
      }
    },
    {
      "data": {"name": "esol"},
      "mark": {"type": "line", "strokeWidth": 1.5, "strokeDash": [4, 2]},
      "encoding": {
        "y": {"field": "E", "type": "quantitative", "scale": {"domain": [0, 1200], "nice": false},
          "axis": {"orient": "right", "values": [0,300,600,900,1200], "format": "d", "labelFontSize": 14, "labelPadding": 11, "tickSize": 5, "grid": false, "labelColor": "#FF00FF", "title": "Ensoleillement ( W/m²)", "titleColor": "#FF00FF", "titleFontSize": 14, "titleFontWeight": "bold", "titleAngle": 270, "titleX": 57, "titleY": 134, "titleAlign": "center", "titleBaseline": "middle"}},
        "color": {"datum": "Esol", "scale": {"domain": ["Esol"], "range": ["#FF00FF"]},
          "legend": {"orient": "none", "legendX": 251, "legendY": -37, "title": null, "symbolType": "stroke", "symbolSize": 400, "symbolStrokeWidth": 1.5, "symbolDash": [4, 2], "labelFontSize": 14, "padding": 0, "labelOffset": 2}}
      }
    }
  ],
  "resolve": {"scale": {"y": "independent"}}
},
{
  "width": 440, "height": 275,
  "title": {"text": "(b)", "orient": "bottom", "font": "Liberation Serif", "fontSize": 22, "fontWeight": "normal", "color": "#000000", "offset": 33},
  "encoding": {
    "x": {"field": "d", "type": "quantitative", "scale": {"domain": [0, 11], "nice": false},
      "axis": {"values": [0,1,2,3,4,5,6,7,8,9,10,11], "labelOverlap": false, "labelExpr": "format(20 + datum.value, 'd') + '/05'", "labelAngle": -30, "labelFontSize": 17, "labelPadding": 2, "tickSize": 5, "grid": false, "title": "Date", "titleFontSize": 19, "titleFontWeight": "bold", "titleY": 65, "titleBaseline": "middle"}}
  },
  "layer": [
    {
      "data": {"name": "wind"},
      "mark": {"type": "line", "strokeWidth": 1.7},
      "encoding": {
        "y": {"field": "V", "type": "quantitative", "scale": {"domain": [0, 8.148], "nice": false},
          "axis": {"values": [0,2,4,6,8], "labelFontSize": 18, "labelPadding": 13, "tickSize": 0, "grid": true, "title": "Vitesse (m/s)", "titleFontSize": 18, "titleFontWeight": "bold", "titleAngle": 270, "titleX": -40, "titleY": 142, "titleAlign": "center", "titleBaseline": "middle"}},
        "stroke": {"datum": "Uvent (Vitesse du vent)", "scale": {"domain": ["Uvent (Vitesse du vent)"], "range": ["#1F77C8"]},
          "legend": {"orient": "none", "legendX": 8, "legendY": -34, "title": null, "symbolType": "stroke", "symbolSize": 289, "symbolStrokeWidth": 2, "labelFontSize": 18.5, "labelLimit": 400, "padding": 0, "labelOffset": 2}}
      }
    },
    {
      "data": {"name": "dir"},
      "mark": {"type": "point", "shape": "square", "filled": true, "size": 44, "stroke": "#8B0000", "strokeWidth": 0.6, "opacity": 1},
      "encoding": {
        "y": {"field": "D", "type": "quantitative", "scale": {"domain": [0, 366.7], "nice": false},
          "axis": {"orient": "right", "values": [0,90,180,270,360], "labelFontSize": 17, "labelPadding": 18, "tickSize": 0, "grid": false, "title": null}},
        "fill": {"datum": "Dvent (Direction du vent)", "scale": {"domain": ["Dvent (Direction du vent)"], "range": ["#C00000"]},
          "legend": {"orient": "none", "legendX": 247, "legendY": -34, "title": null, "symbolType": "square", "symbolSize": 40, "labelFontSize": 18.5, "labelLimit": 400, "padding": 0, "labelOffset": 3}}
      }
    },
    {
      "data": {"name": "dir"},
      "mark": {"type": "point", "opacity": 0},
      "encoding": {
        "y": {"field": "D", "type": "quantitative", "scale": {"domain": [0, 366.7], "nice": false},
          "axis": {"orient": "right", "values": [0,90,180,270,360], "labelExpr": "datum.value == 270 ? 'O' : datum.value == 180 ? 'S' : datum.value == 90 ? 'E' : 'N'", "labelFontSize": 17, "labelFontWeight": "bold", "labelPadding": 54, "tickSize": 0, "domain": false, "grid": false, "title": "Direction (°)", "titleFontSize": 18, "titleFontWeight": "bold", "titleAngle": 270, "titleX": 84, "titleY": 142, "titleAlign": "center", "titleBaseline": "middle"}}
      }
    }
  ],
  "resolve": {"scale": {"y": "independent"}}
}
],
"resolve": {"scale": {"stroke": "independent", "color": "independent", "fill": "independent"}, "legend": {"stroke": "independent", "color": "independent", "fill": "independent"}},
"spacing": 133,
"bounds": "flush"
}
